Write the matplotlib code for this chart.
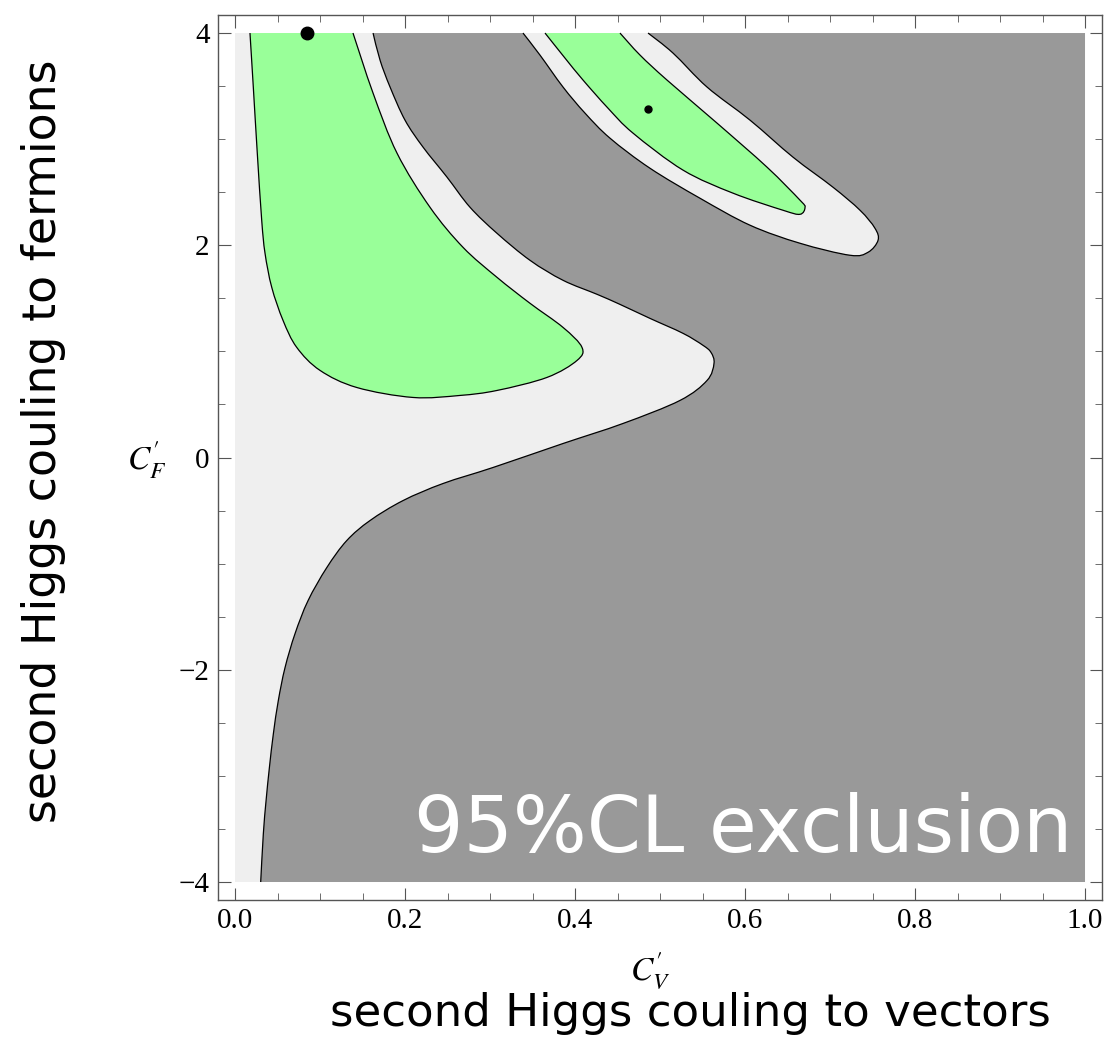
import numpy as np
import matplotlib
import matplotlib.pyplot as plt
import matplotlib.ticker as mticker
from matplotlib.path import Path
from matplotlib.patches import PathPatch
matplotlib.use('Agg')

# exclusion boundary, lower branch (from C'_F = -4 up to the tip near 0.56)
low_x = [0.0302, 0.0333, 0.0365, 0.0404, 0.0451, 0.0509, 0.0588, 0.0706, 0.0859,
         0.1079, 0.1314, 0.1588, 0.1976, 0.2447, 0.3035, 0.3859, 0.4565, 0.5235,
         0.5553, 0.5635]
low_y = [-4.0, -3.547, -3.236, -2.925, -2.604, -2.292, -1.981, -1.660, -1.349,
         -1.038, -0.783, -0.594, -0.406, -0.245, -0.094, 0.132, 0.321, 0.538,
         0.726, 0.887]

# exclusion boundary, upper branch (tip back up to C'_F = 4)
up_x = [0.5600, 0.5506, 0.5271, 0.4882, 0.4529, 0.4259, 0.3859, 0.3471, 0.3082,
        0.2765, 0.2494, 0.2212, 0.2000, 0.1824, 0.1706, 0.1624]
up_y = [0.99, 1.057, 1.170, 1.311, 1.443, 1.538, 1.670, 1.858, 2.113,
        2.358, 2.642, 2.925, 3.179, 3.491, 3.745, 4.0]

# allowed island in the upper right
isl_x = [0.3388, 0.3588, 0.3859, 0.4118, 0.4412, 0.4882, 0.5471, 0.6059, 0.6647,
         0.7235, 0.7447, 0.7565, 0.7529, 0.7353, 0.7035, 0.6565, 0.6059, 0.5553,
         0.5153, 0.4859]
isl_y = [4.0, 3.792, 3.491, 3.245, 3.009, 2.726, 2.443, 2.189, 2.019,
         1.906, 1.934, 2.047, 2.160, 2.330, 2.547, 2.830, 3.179, 3.491,
         3.811, 4.0]

# 68% region, left band
g1_x = [0.0176, 0.0215, 0.0262, 0.0314, 0.0353, 0.0432, 0.0565, 0.0726, 0.1000,
        0.1432, 0.2094, 0.2647, 0.3082, 0.3671, 0.4024, 0.4082, 0.3859, 0.3471,
        0.3082, 0.2682, 0.2294, 0.1906, 0.1624, 0.1388]
g1_y = [4.0, 3.493, 2.868, 2.236, 1.925, 1.604, 1.292, 1.038, 0.821,
        0.660, 0.566, 0.585, 0.632, 0.755, 0.915, 1.038, 1.226, 1.453,
        1.698, 1.981, 2.358, 2.868, 3.434, 4.0]

# 68% region, upper right
g2_x = [0.3647, 0.3882, 0.4094, 0.4388, 0.4682, 0.5271, 0.5859, 0.6447, 0.6647,
        0.6706, 0.6647, 0.6259, 0.5671, 0.5082, 0.4765, 0.4529]
g2_y = [4.0, 3.764, 3.557, 3.292, 3.057, 2.708, 2.491, 2.330, 2.292,
        2.358, 2.425, 2.736, 3.151, 3.557, 3.792, 4.0]

# best fit points
best_x = [0.085, 0.486]
best_y = [4.0, 3.28]
best_size = [9, 5]

xticks = [0.0, 0.2, 0.4, 0.6, 0.8, 1.0]
yticks = [-4, -2, 0, 2, 4]


def smooth(xs, ys):
    # catmull-rom through the points, written as cubic bezier pieces
    p = np.column_stack([xs, ys])
    n = len(p)
    verts = [p[0]]
    for i in range(n - 1):
        p0, p1, p2, p3 = p[max(i - 1, 0)], p[i], p[i + 1], p[min(i + 2, n - 1)]
        verts += [p1 + (p2 - p0) / 6, p2 - (p3 - p1) / 6, p2]
    codes = [Path.MOVETO] + [Path.CURVE4] * (len(verts) - 1)
    return verts, codes


def join(*pieces, close=True):
    verts, codes = [], []
    for v, c in pieces:
        c = list(c)
        if codes:
            c[0] = Path.LINETO
        verts += list(v)
        codes += c
    if close:
        verts.append(verts[0])
        codes.append(Path.CLOSEPOLY)
    return Path(verts, codes)


plt.rcParams['mathtext.fontset'] = 'stix'

fig = plt.figure(figsize=(11.05, 10.41), dpi=100)
ax = fig.add_axes([0.1973, 0.1354, 0.8000, 0.8502])

ax.fill([0, 1, 1, 0], [-4, -4, 4, 4], color='#efefef', lw=0)

main_edge = smooth(low_x + up_x, low_y + up_y)
isl_edge = smooth(isl_x, isl_y)
g1_edge = smooth(g1_x, g1_y)
g2_edge = smooth(g2_x, g2_y)

# excluded area: right of the main boundary, minus the island
corner = ([[1.0, 4.0], [1.0, -4.0]], [Path.LINETO, Path.LINETO])
ax.add_patch(PathPatch(join(main_edge, isl_edge, corner), fc='#999999', lw=0))
ax.add_patch(PathPatch(join(g1_edge), fc='#99ff99', lw=0))
ax.add_patch(PathPatch(join(g2_edge), fc='#99ff99', lw=0))

for e in [main_edge, isl_edge, g1_edge, g2_edge]:
    ax.add_patch(PathPatch(Path(*e), fill=False, ec='black', lw=0.9))

for bx, by, s in zip(best_x, best_y, best_size):
    ax.plot(bx, by, 'o', color='black', ms=s, clip_on=False)

ax.set_xlim(-0.02, 1.02)
ax.set_ylim(-4.17, 4.17)
ax.set_xticks(xticks)
ax.set_yticks(yticks)
ax.xaxis.set_major_formatter(mticker.FormatStrFormatter('%.1f'))
ax.xaxis.set_minor_locator(mticker.MultipleLocator(0.05))
ax.yaxis.set_minor_locator(mticker.MultipleLocator(0.5))
ax.tick_params(which='both', direction='in', top=True, right=True, color='#555555')
ax.tick_params(which='major', length=9, width=0.8, labelsize=21, pad=6)
ax.tick_params(which='minor', length=5, width=0.6)
for lab in ax.get_xticklabels() + ax.get_yticklabels():
    lab.set_family('Liberation Serif')
for sp in ax.spines.values():
    sp.set_color('#555555')
    sp.set_linewidth(1.0)

fig.text(0.133, 0.558, r"$C_F^{\prime}$", fontsize=24, ha='center', va='center')
fig.text(0.588, 0.068, r"$C_V^{\prime}$", fontsize=24, ha='center', va='center')

hand = 'DejaVu Sans'
fig.text(0.039, 0.576, 'second Higgs couling to fermions', rotation=90,
         fontsize=33, family=hand, ha='center', va='center')
fig.text(0.625, 0.026, 'second Higgs couling to vectors',
         fontsize=32.5, family=hand, ha='center', va='center')
ax.text(0.985, -3.72, '95%CL exclusion', color='white', fontsize=56,
        family=hand, ha='right', va='baseline')

plt.savefig('out.png', dpi=100)
